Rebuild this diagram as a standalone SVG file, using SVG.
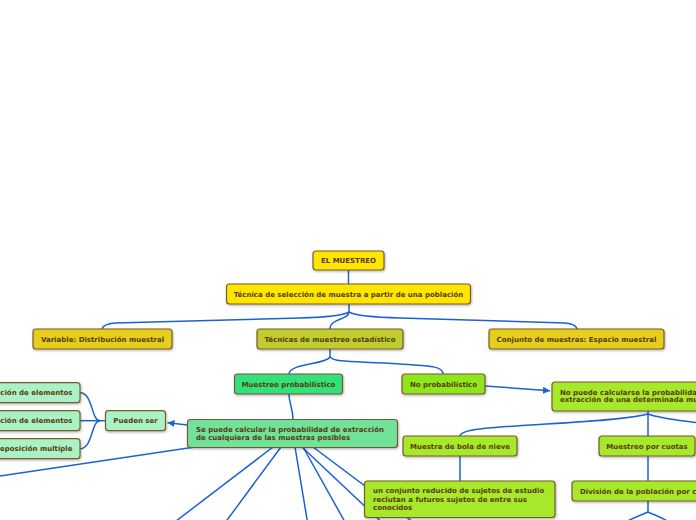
<svg xmlns="http://www.w3.org/2000/svg" width="696" height="520" viewBox="0 0 696 520">
<defs>
<style>
.n rect{stroke:#7a5a2a;stroke-width:1.2;filter:url(#sh)}
.n text{font-family:"DejaVu Sans",Verdana,sans-serif;font-size:7px;font-weight:bold;fill:#5a3a0a}
.c{text-anchor:middle}
.e{text-anchor:end}
.cn path{fill:none;stroke:#1a62d6;stroke-width:1.5}
.y1{fill:#ffe600}.y2{fill:#e5cf1c}.yg{fill:#bfcd2f}.g1{fill:#33e07c}.lm{fill:#8ee61c}.lg{fill:#a6e82c}.sg{fill:#6fe29c}.mt{fill:#a9f2c5}
</style>
<filter id="sh" x="-10%" y="-20%" width="120%" height="150%">
<feDropShadow dx="0.8" dy="1.2" stdDeviation="0.8" flood-color="#000" flood-opacity="0.3"/>
</filter>
<marker id="ar" markerWidth="8" markerHeight="8" refX="7" refY="4" orient="auto" markerUnits="userSpaceOnUse">
<path d="M0,0.5 L7,4 L0,7.5 Z" fill="#1a62d6"/>
</marker>
</defs>
<rect width="696" height="520" fill="#fff"/>
<g id="connectors" class="cn">
<path d="M348.5,270 L348.5,284"/>
<path d="M349,304 L349,312"/>
<path d="M349,312 Q340,317 300,318 L115,323 Q103,324 102,329"/>
<path d="M349,312 Q358,317 400,318 L565,323 Q576,324 577,329"/>
<path d="M349,312 C349,320 330,318 330,329"/>
<path d="M330,349 L330,357"/>
<path d="M330,357 C325,365 290,363 289,374"/>
<path d="M330,357 C335,363 360,361 400,364 C430,366 443,366 443,374"/>
<path d="M289,394 C289,404 293,408 293,419.5"/>
<path d="M485,386 L550,390.8" marker-end="url(#ar)"/>
<path d="M187.5,425 L167.5,422.7" marker-end="url(#ar)"/>
<path d="M105.5,420.7 L100,420.7"/>
<path d="M100,420.7 C91,420.7 93,392.7 80,392.7"/>
<path d="M100,420.7 L80,420.7"/>
<path d="M100,420.7 C91,420.7 93,448.7 80,448.7"/>
<path d="M195,447 L0,476"/>
<path d="M273,447 L163,531"/>
<path d="M281,447 L219,531"/>
<path d="M295,447 L309,531"/>
<path d="M303,447 L350,531"/>
<path d="M302,447 L391,531"/>
<path d="M313,447 L425,531"/>
<path d="M648,411 L648,436"/>
<path d="M648,414 C620,422 520,424 480,429 Q461,431 460,436"/>
<path d="M648,414 C665,420 690,421 705,424"/>
<path d="M460,456 L460,481"/>
<path d="M648,456 L648,481"/>
<path d="M648,501 L648,512"/>
<path d="M648,512 C642,515 632,518 622,524"/>
<path d="M648,512 C654,515 664,518 672,524"/>
</g>
<g id="n1" class="n"><rect class="y1" x="313" y="251" width="71" height="19" rx="3"/><text class="c" x="348.5" y="263">EL MUESTREO</text></g>
<g id="n2" class="n"><rect class="y1" x="226.5" y="284" width="244" height="20" rx="3"/><text class="c" x="348.5" y="296.5">Técnica de selección de muestra a partir de una población</text></g>
<g id="n3" class="n"><rect class="y2" x="33" y="329" width="139" height="20" rx="3"/><text class="c" x="102.5" y="341.5">Variable: Distribución muestral</text></g>
<g id="n4" class="n"><rect class="yg" x="257" y="329" width="146" height="20" rx="3"/><text class="c" x="330" y="341.5">Técnicas de muestreo estadístico</text></g>
<g id="n5" class="n"><rect class="y2" x="489" y="329" width="175" height="20" rx="3"/><text class="c" x="576.5" y="341.5">Conjunto de muestras: Espacio muestral</text></g>
<g id="n6" class="n"><rect class="g1" x="234.5" y="374" width="108" height="20" rx="3"/><text class="c" x="288.5" y="386.5">Muestreo probabilístico</text></g>
<g id="n7" class="n"><rect class="lm" x="402" y="374" width="83" height="20" rx="3"/><text class="c" x="443.5" y="386.5">No probabilístico</text></g>
<g id="n8" class="n"><rect class="lg" x="552" y="382" width="200" height="29" rx="3"/><text x="560" y="394.5">No puede calcularse la probabilidad de</text><text x="560" y="402">extracción de una determinada muestra</text></g>
<g id="n9" class="n"><rect class="sg" x="187.5" y="419.5" width="210" height="28" rx="3"/><text x="196" y="432">Se puede calcular la probabilidad de extracción</text><text x="196" y="439.5">de cualquiera de las muestras posibles</text></g>
<g id="n10" class="n"><rect class="mt" x="105.5" y="410.7" width="60" height="20" rx="3"/><text class="c" x="135.5" y="423.2">Pueden ser</text></g>
<g id="n11" class="n"><rect class="mt" x="-90" y="382.7" width="170" height="20" rx="3"/><text class="e" x="72.5" y="395.2">Con reposición de elementos</text></g>
<g id="n12" class="n"><rect class="mt" x="-90" y="410.7" width="170" height="20" rx="3"/><text class="e" x="72.5" y="423.2">Sin reposición de elementos</text></g>
<g id="n13" class="n"><rect class="mt" x="-90" y="438.7" width="170" height="20" rx="3"/><text class="e" x="72.5" y="451.2">Con reposición multiple</text></g>
<g id="n14" class="n"><rect class="lg" x="403" y="436" width="114" height="20" rx="3"/><text class="c" x="460" y="448.5">Muestra de bola de nieve</text></g>
<g id="n15" class="n"><rect class="lg" x="599" y="436" width="96" height="20" rx="3"/><text class="c" x="647" y="448.5">Muestreo por cuotas</text></g>
<g id="n16" class="n"><rect class="lg" x="364.5" y="481" width="190.5" height="36.5" rx="3"/><text x="373" y="493.2">un conjunto reducido de sujetos de estudio</text><text x="373" y="501.5">reclutan a futuros sujetos de entre sus</text><text x="373" y="510">conocidos</text></g>
<g id="n17" class="n"><rect class="lg" x="572" y="481" width="180" height="20" rx="3"/><text x="580" y="493.5">División de la población por categorías</text></g>
</svg>
